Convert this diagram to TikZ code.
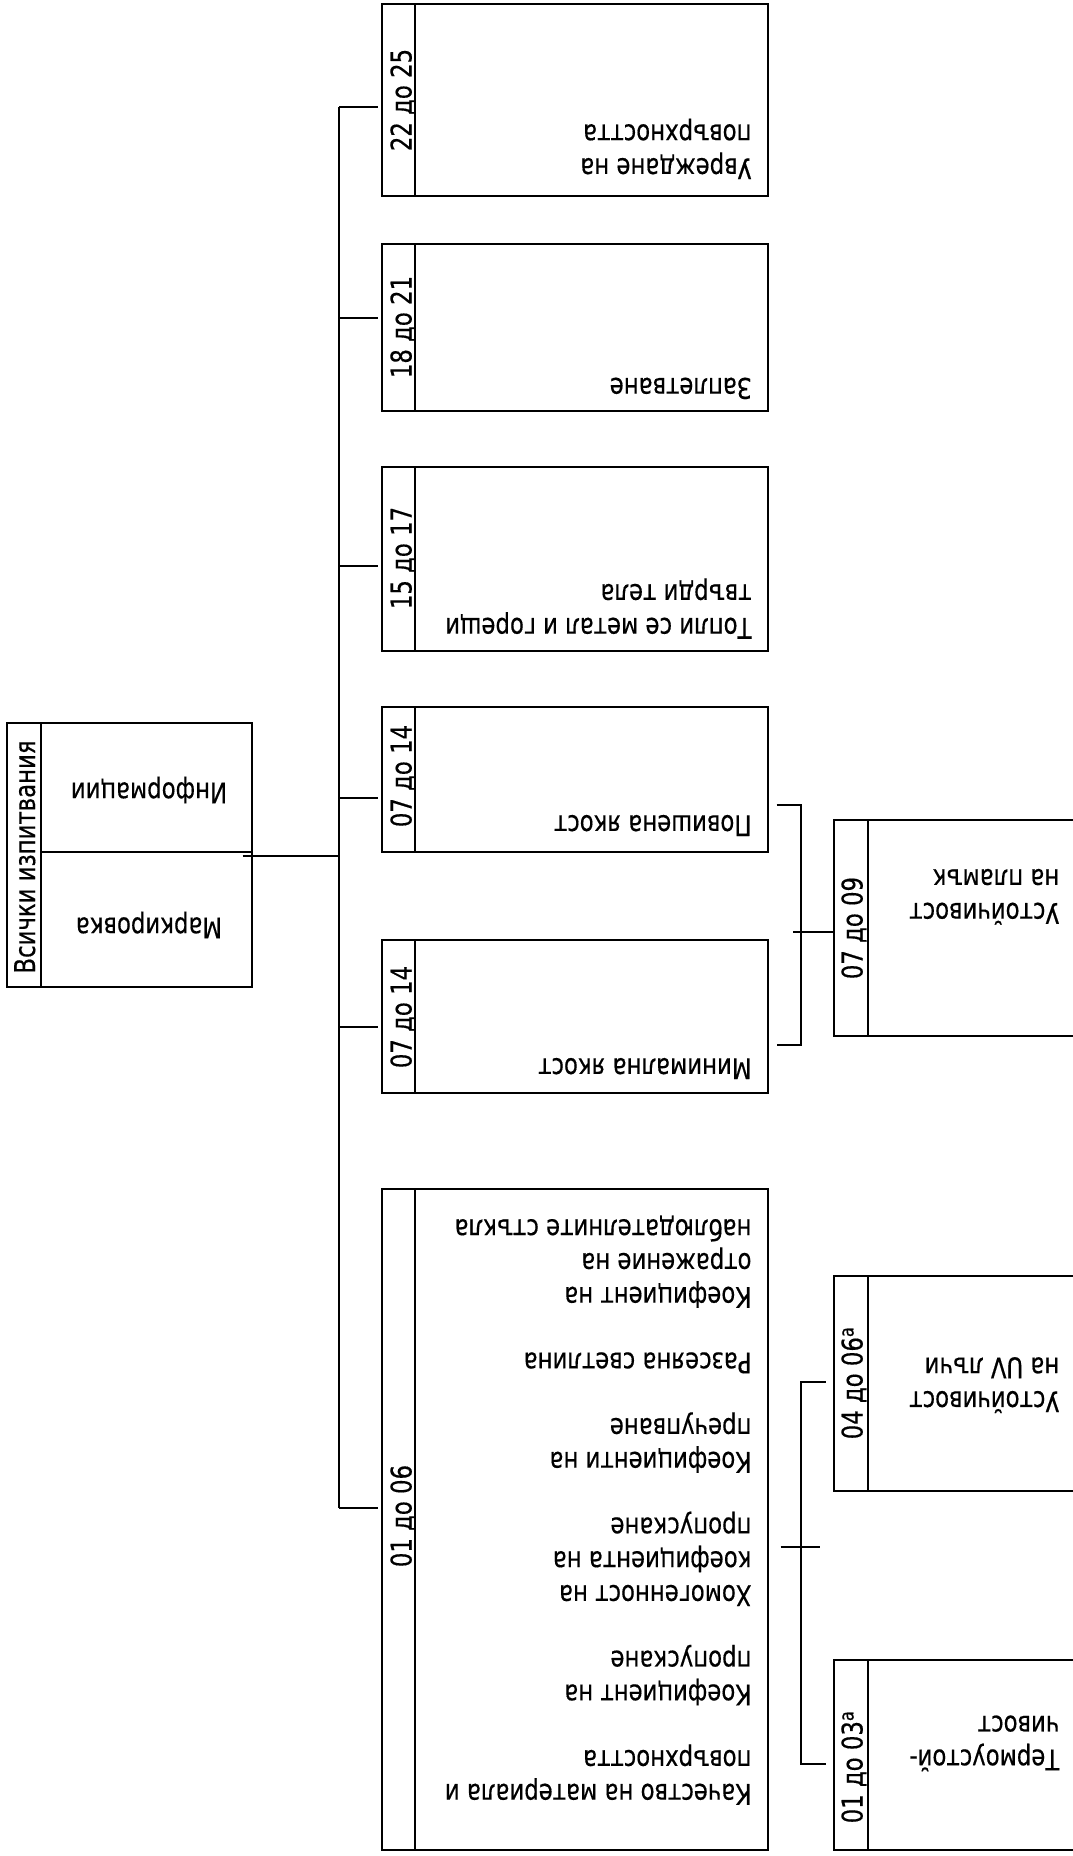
\documentclass[tikz,border=0pt]{standalone}
\usepackage{fontspec}
\setmainfont{DejaVu Sans}[FakeStretch=0.8,FakeBold=0.4]
\begin{document}
\begin{tikzpicture}[x=1pt,y=-1pt,
  box/.style={draw, line width=2pt, inner sep=0pt, outer sep=0pt},
  conn/.style={line width=1.7pt},
  txt/.style={font=\fontsize{28.5}{33.8}\selectfont, inner sep=0pt, rotate=180, anchor=north west, align=left},
  ctxt/.style={font=\fontsize{28.5}{33.8}\selectfont, inner sep=0pt, rotate=180, anchor=center},
  lbl/.style={font=\fontsize{28.5}{33.8}\selectfont, inner sep=0pt, rotate=90, anchor=base}]
\useasboundingbox (0,0) rectangle (1073,1856);
\clip (0,0) rectangle (1073,1856);
\fill[white] (0,0) rectangle (1073,1856);

% root box
\node[box, anchor=north west, minimum width=33.4, minimum height=264] (Rs) at (7.3,722.7) {};
\node[box, anchor=north west, minimum width=211, minimum height=129] (Rt) at (40.7,722.7) {};
\node[box, anchor=north west, minimum width=211, minimum height=135] (Rb) at (40.7,851.7) {};
\node[lbl] (RsL) at (35,857) {Всички изпитвания};
\node[ctxt] (RtT) at (149,790) {Информации};
\node[ctxt] (RbT) at (149,925) {Маркировка};

% main column boxes
\node[box, anchor=north west, minimum width=33.3, minimum height=191.7] (As) at (381.7,4) {};
\node[box, anchor=north west, minimum width=352.7, minimum height=191.7] (A) at (415,4) {};
\node[box, anchor=north west, minimum width=33.3, minimum height=166.7] (Bs) at (381.7,244.3) {};
\node[box, anchor=north west, minimum width=352.7, minimum height=166.7] (B) at (415,244.3) {};
\node[box, anchor=north west, minimum width=33.3, minimum height=184] (Cs) at (381.7,467.3) {};
\node[box, anchor=north west, minimum width=352.7, minimum height=184] (C) at (415,467.3) {};
\node[box, anchor=north west, minimum width=33.3, minimum height=145.6] (Ds) at (381.7,706.7) {};
\node[box, anchor=north west, minimum width=352.7, minimum height=145.6] (D) at (415,706.7) {};
\node[box, anchor=north west, minimum width=33.3, minimum height=152.7] (Es) at (381.7,940) {};
\node[box, anchor=north west, minimum width=352.7, minimum height=152.7] (E) at (415,940) {};
\node[box, anchor=north west, minimum width=33.3, minimum height=661] (Fs) at (381.7,1189) {};
\node[box, anchor=north west, minimum width=352.7, minimum height=661] (F) at (415,1189) {};

% right column boxes (cut by the page edge)
\node[box, anchor=north west, minimum width=34.2, minimum height=215.7] (Gs) at (833.5,820) {};
\node[box, anchor=north west, minimum width=240, minimum height=215.7] (G) at (867.7,820) {};
\node[box, anchor=north west, minimum width=34.2, minimum height=215] (Hs) at (833.5,1275.7) {};
\node[box, anchor=north west, minimum width=240, minimum height=215] (H) at (867.7,1275.7) {};
\node[box, anchor=north west, minimum width=34.2, minimum height=190] (Is) at (833.5,1660) {};
\node[box, anchor=north west, minimum width=240, minimum height=190] (I) at (867.7,1660) {};

% labels
\node[lbl] (AL) at (411.5,100) {22 до 25};
\node[lbl] (BL) at (411.5,327) {18 до 21};
\node[lbl] (CL) at (411.5,558) {15 до 17};
\node[lbl] (DL) at (411.5,776) {07 до 14};
\node[lbl] (EL) at (411.5,1017) {07 до 14};
\node[lbl] (FL) at (411.5,1516) {01 до 06};
\node[lbl] (GL) at (862.5,928) {07 до 09};
\node[lbl] (HL) at (862.5,1383) {04 до 06\textsuperscript{a}};
\node[lbl] (IL) at (862.5,1767) {01 до 03\textsuperscript{a}};

% texts
\node[txt] (AT) at (751.7,182.2) {\strut Увреждане на\\повърхността};
\node[txt] (BT) at (751.7,401.9) {\strut Заплетване};
\node[txt] (CT) at (751.7,641.9) {\strut Топли се метал и горещи\\твърди тела};
\node[txt] (DT) at (751.7,839.2) {\strut Повишена якост};
\node[txt] (ET) at (751.7,1082.2) {\strut Минимална якост};
\node[txt] (FT) at (751.7,1807.9) {\strut Качество на материала и\\повърхността\\[31.8pt]Коефициент на\\пропускане\\[31.8pt]Хомогенност на\\коефициента на\\пропускане\\[31.8pt]Коефициенти на\\пречупване\\[31.8pt]Разсеяна светлина\\[31.8pt]Коефициент на\\отражение на\\наблюдателните стъкла};
\node[txt] (GT) at (1059.5,926.9) {\strut Устойчивост\\на пламък};
\node[txt] (HT) at (1059.5,1415.2) {\strut Устойчивост\\на UV лъчи};
\node[txt] (IT) at (1059.5,1773.5) {\strut Термоустой-\\чивост};

% trunk and branches
\coordinate (r0) at (242.7,855.7);
\coordinate (r1) at (339.3,855.7);
\coordinate (jA) at (339.3,107);
\coordinate (jB) at (339.3,317.7);
\coordinate (jC) at (339.3,566);
\coordinate (jD) at (339.3,797.7);
\coordinate (jE) at (339.3,1027);
\coordinate (jF) at (339.3,1507.7);
\coordinate (eA) at (377.7,107);
\coordinate (eB) at (377.7,317.7);
\coordinate (eC) at (377.7,566);
\coordinate (eD) at (377.7,797.7);
\coordinate (eE) at (377.7,1027);
\coordinate (eF) at (377.7,1507.7);
\draw[conn] (r0) -- (r1);
\draw[conn] (jA) -- (jF);
\foreach \n in {A,B,C,D,E,F} \draw[conn] (j\n) -- (e\n);

% bracket to 07 до 09
\coordinate (b1a) at (776.7,805);
\coordinate (b1b) at (800.7,805);
\coordinate (b1c) at (800.7,1045);
\coordinate (b1d) at (776.7,1045);
\coordinate (b1t) at (793.3,932.3);
\coordinate (b1e) at (833.5,932.3);
\draw[conn] (b1a) -- (b1b) -- (b1c) -- (b1d);
\draw[conn] (b1t) -- (b1e);

% bracket from 01 до 06
\coordinate (b2a) at (825.7,1381.7);
\coordinate (b2b) at (800.7,1381.7);
\coordinate (b2c) at (800.7,1764);
\coordinate (b2d) at (825.7,1764);
\coordinate (b2t) at (780.7,1546.7);
\coordinate (b2e) at (820,1546.7);
\draw[conn] (b2a) -- (b2b) -- (b2c) -- (b2d);
\draw[conn] (b2t) -- (b2e);
\end{tikzpicture}
\end{document}
